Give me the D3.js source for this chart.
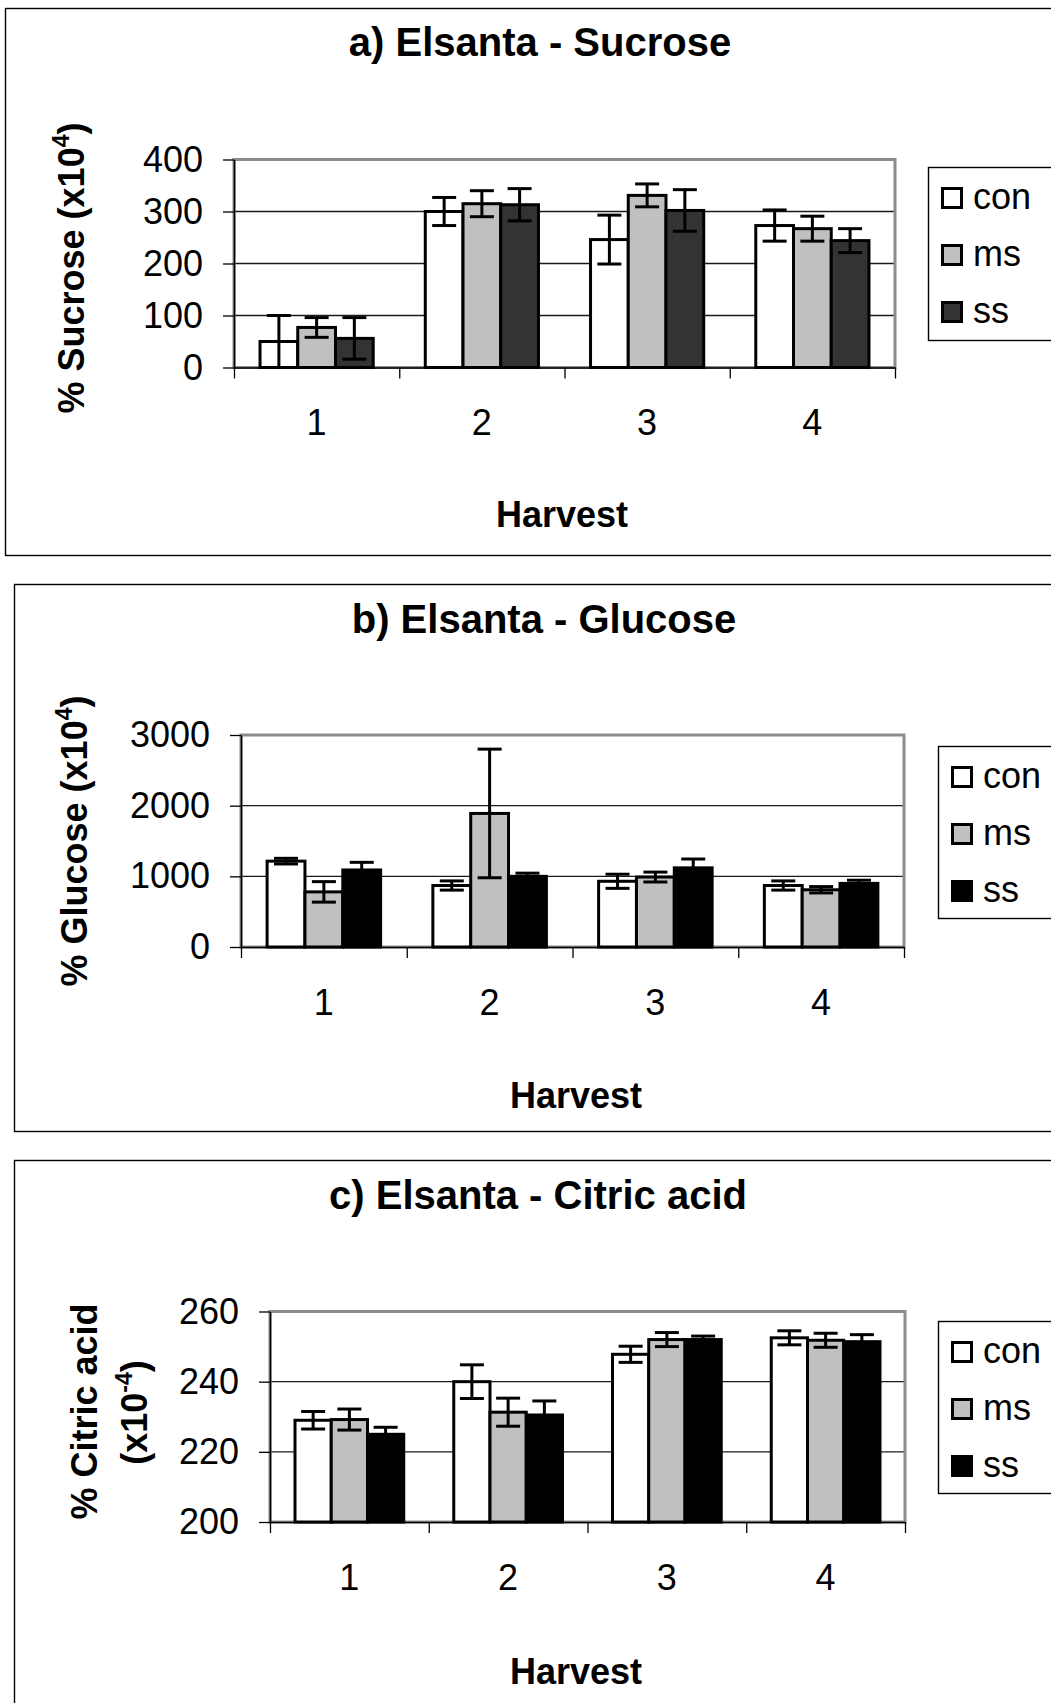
<!DOCTYPE html>
<html>
<head>
<meta charset="utf-8">
<script src="https://cdn.jsdelivr.net/npm/d3@7"></script>
<style>
  body { margin: 0; background: #fff; }
  svg text { font-family: "Liberation Sans", Arial, sans-serif; fill: #000; }
</style>
</head>
<body>
<svg id="fig" width="1051" height="1703"></svg>
<script>
// Categories and treatments
const harvests = ["1", "2", "3", "4"];
const treatments = ["con", "ms", "ss"];

// a) Sucrose, % (x10^4): means and error half-widths per harvest
const sucroseCon = [50, 300, 246, 273];
const sucroseConErr = [50, 27, 47, 30];
const sucroseMs = [77, 315, 331, 267];
const sucroseMsErr = [19, 25, 22, 24];
const sucroseSs = [56, 313, 302, 244];
const sucroseSsErr = [40, 31, 40, 23];
const sucroseTicks = [0, 100, 200, 300, 400];

// b) Glucose, % (x10^4)
const glucoseCon = [1215, 870, 930, 870];
const glucoseConErr = [40, 65, 100, 65];
const glucoseMs = [780, 1890, 990, 810];
const glucoseMsErr = [145, 910, 70, 45];
const glucoseSs = [1090, 1000, 1120, 900];
const glucoseSsErr = [108, 45, 125, 45];
const glucoseTicks = [0, 1000, 2000, 3000];

// c) Citric acid, % (x10^-4)
const citricCon = [229, 240, 247.8, 252.5];
const citricConErr = [2.5, 4.8, 2.3, 2];
const citricMs = [229.2, 231.3, 252, 251.8];
const citricMsErr = [3, 4, 2, 2];
const citricSs = [225, 230.5, 252, 251.4];
const citricSsErr = [2, 4, 1, 2];
const citricTicks = [200, 220, 240, 260];

function rows(means, errs) {
  // one record per harvest x treatment
  const out = [];
  harvests.forEach((h, i) => {
    treatments.forEach((t, j) => {
      out.push({ harvest: h, treatment: t, value: means[j][i], err: errs[j][i] });
    });
  });
  return out;
}

const FONT = '"Liberation Sans", Arial, sans-serif';
const svg = d3.select("#fig");

const panels = [
  {
    title: "a) Elsanta - Sucrose", titleX: 540, titleY: 56,
    ylabel: [{ text: "% Sucrose (x10", sup: "4", x: 83.5, y: 268 }],
    data: rows([sucroseCon, sucroseMs, sucroseSs], [sucroseConErr, sucroseMsErr, sucroseSsErr]),
    ticks: sucroseTicks,
    fills: { con: "#ffffff", ms: "#c0c0c0", ss: "#333333" },
    box: { x: 5, y: 8, h: 547 },
    plot: { l: 234, r: 895, t: 159.5, b: 367.5 },
    legend: { x: 928, y: 167, w: 140, h: 173 },
    harvestX: 562, harvestY: 527
  },
  {
    title: "b) Elsanta - Glucose", titleX: 544, titleY: 633,
    ylabel: [{ text: "% Glucose (x10", sup: "4", x: 87, y: 841 }],
    data: rows([glucoseCon, glucoseMs, glucoseSs], [glucoseConErr, glucoseMsErr, glucoseSsErr]),
    ticks: glucoseTicks,
    fills: { con: "#ffffff", ms: "#c0c0c0", ss: "#000000" },
    box: { x: 14, y: 584, h: 547 },
    plot: { l: 241, r: 904, t: 735, b: 947 },
    legend: { x: 938, y: 746, w: 140, h: 172 },
    harvestX: 576, harvestY: 1108
  },
  {
    title: "c) Elsanta - Citric acid", titleX: 538, titleY: 1209,
    ylabel: [
      { text: "% Citric acid", x: 97, y: 1411.5 },
      { text: "(x10", sup: "-4", x: 147, y: 1412.5 }
    ],
    data: rows([citricCon, citricMs, citricSs], [citricConErr, citricMsErr, citricSsErr]),
    ticks: citricTicks,
    fills: { con: "#ffffff", ms: "#c0c0c0", ss: "#000000" },
    box: { x: 14, y: 1160, h: 700 },
    plot: { l: 270, r: 905, t: 1311.5, b: 1522 },
    legend: { x: 938, y: 1321, w: 140, h: 172 },
    harvestX: 576, harvestY: 1684
  }
];

function drawPanel(p) {
  const g = svg.append("g");

  // outer frame of the panel (runs past the right edge of the page)
  g.append("rect")
    .attr("x", p.box.x + 0.5).attr("y", p.box.y + 0.5)
    .attr("width", 1200).attr("height", p.box.h)
    .attr("fill", "none").attr("stroke", "#000").attr("stroke-width", 1.4);

  // title
  g.append("text")
    .attr("x", p.titleX).attr("y", p.titleY)
    .attr("text-anchor", "middle")
    .attr("font-size", 40).attr("font-weight", "bold")
    .text(p.title);

  const ticks = p.ticks;
  const y = d3.scaleLinear()
    .domain([ticks[0], ticks[ticks.length - 1]])
    .range([p.plot.b, p.plot.t]);
  const x0 = d3.scaleBand().domain(harvests).range([p.plot.l, p.plot.r]);
  const bw = x0.bandwidth();
  const groupW = bw / 1.46;
  const x1 = d3.scaleBand().domain(treatments)
    .range([(bw - groupW) / 2, (bw + groupW) / 2]);

  // horizontal gridlines
  g.append("g").selectAll("line")
    .data(ticks.slice(1, -1)).join("line")
    .attr("x1", p.plot.l).attr("x2", p.plot.r)
    .attr("y1", d => y(d)).attr("y2", d => y(d))
    .attr("stroke", "#1a1a1a").attr("stroke-width", 1.3);

  // grey plot-area border
  g.append("rect")
    .attr("x", p.plot.l).attr("y", y(ticks[ticks.length - 1]))
    .attr("width", p.plot.r - p.plot.l)
    .attr("height", y(ticks[0]) - y(ticks[ticks.length - 1]))
    .attr("fill", "none").attr("stroke", "#8c8c8c").attr("stroke-width", 3);

  // bars
  g.append("g").selectAll("rect")
    .data(p.data).join("rect")
    .attr("x", d => x0(d.harvest) + x1(d.treatment))
    .attr("y", d => y(d.value))
    .attr("width", x1.bandwidth())
    .attr("height", d => y(ticks[0]) - y(d.value))
    .attr("fill", d => p.fills[d.treatment])
    .attr("stroke", "#000").attr("stroke-width", 3);

  // error bars
  const capW = 24;
  const eb = g.append("g").selectAll("g")
    .data(p.data).join("g")
    .attr("transform", d => `translate(${x0(d.harvest) + x1(d.treatment) + x1.bandwidth() / 2},0)`)
    .attr("stroke", "#000").attr("stroke-width", 3);
  eb.append("line")
    .attr("x1", 0).attr("x2", 0)
    .attr("y1", d => y(d.value + d.err)).attr("y2", d => y(d.value - d.err));
  eb.append("line")
    .attr("x1", -capW / 2).attr("x2", capW / 2)
    .attr("y1", d => y(d.value + d.err)).attr("y2", d => y(d.value + d.err));
  eb.append("line")
    .attr("x1", -capW / 2).attr("x2", capW / 2)
    .attr("y1", d => y(d.value - d.err)).attr("y2", d => y(d.value - d.err));

  // y axis
  g.append("g")
    .attr("transform", `translate(${p.plot.l},0)`)
    .call(d3.axisLeft(y).tickValues(ticks).tickFormat(d3.format("d"))
      .tickSize(11).tickSizeOuter(0).tickPadding(20))
    .attr("font-family", FONT).attr("font-size", 36)
    .call(s => s.select(".domain").attr("stroke", "#000").attr("stroke-width", 1.6))
    .call(s => s.selectAll(".tick line").attr("stroke", "#000").attr("stroke-width", 1.3))
    .call(s => s.selectAll(".tick text").attr("fill", "#000"));

  // x axis: category divider ticks
  const xb = d3.scaleLinear().domain([0, harvests.length]).range([p.plot.l, p.plot.r]);
  g.append("g")
    .attr("transform", `translate(0,${p.plot.b})`)
    .call(d3.axisBottom(xb).tickValues(d3.range(harvests.length + 1)).tickSize(11).tickSizeOuter(0).tickFormat(""))
    .call(s => s.select(".domain").attr("stroke", "#000").attr("stroke-width", 1.6))
    .call(s => s.selectAll(".tick line").attr("stroke", "#000").attr("stroke-width", 1.3));

  // x axis: category labels
  g.append("g")
    .attr("transform", `translate(0,${p.plot.b})`)
    .call(d3.axisBottom(x0).tickSize(0).tickPadding(42))
    .attr("font-family", FONT).attr("font-size", 36)
    .call(s => s.select(".domain").remove())
    .call(s => s.selectAll(".tick text").attr("fill", "#000"));

  // x axis title
  g.append("text")
    .attr("x", p.harvestX).attr("y", p.harvestY)
    .attr("text-anchor", "middle")
    .attr("font-size", 36).attr("font-weight", "bold")
    .text("Harvest");

  // y axis title (rotated, optional superscript)
  p.ylabel.forEach(l => {
    const t = g.append("text")
      .attr("transform", `translate(${l.x},${l.y}) rotate(-90)`)
      .attr("text-anchor", "middle")
      .attr("font-size", 36).attr("font-weight", "bold");
    t.append("tspan").text(l.text);
    if (l.sup) {
      t.append("tspan").attr("font-size", 23).attr("dy", -15).text(l.sup);
      t.append("tspan").attr("dy", 15).text(")");
    }
  });

  // legend
  const lg = g.append("g").attr("transform", `translate(${p.legend.x},${p.legend.y})`);
  lg.append("rect")
    .attr("x", 0.5).attr("y", 0.5)
    .attr("width", p.legend.w).attr("height", p.legend.h)
    .attr("fill", "#fff").attr("stroke", "#000").attr("stroke-width", 1.4);
  const rowsY = [31, 88, 145];
  const item = lg.selectAll("g.item")
    .data(treatments).join("g").attr("class", "item")
    .attr("transform", (d, i) => `translate(0,${rowsY[i]})`);
  item.append("rect")
    .attr("x", 14.5).attr("y", -9.5)
    .attr("width", 19).attr("height", 19)
    .attr("fill", d => p.fills[d])
    .attr("stroke", "#000").attr("stroke-width", 3);
  item.append("text")
    .attr("x", 45).attr("y", 11)
    .attr("font-size", 36)
    .text(d => d);
}

panels.forEach(drawPanel);
</script>
</body>
</html>
